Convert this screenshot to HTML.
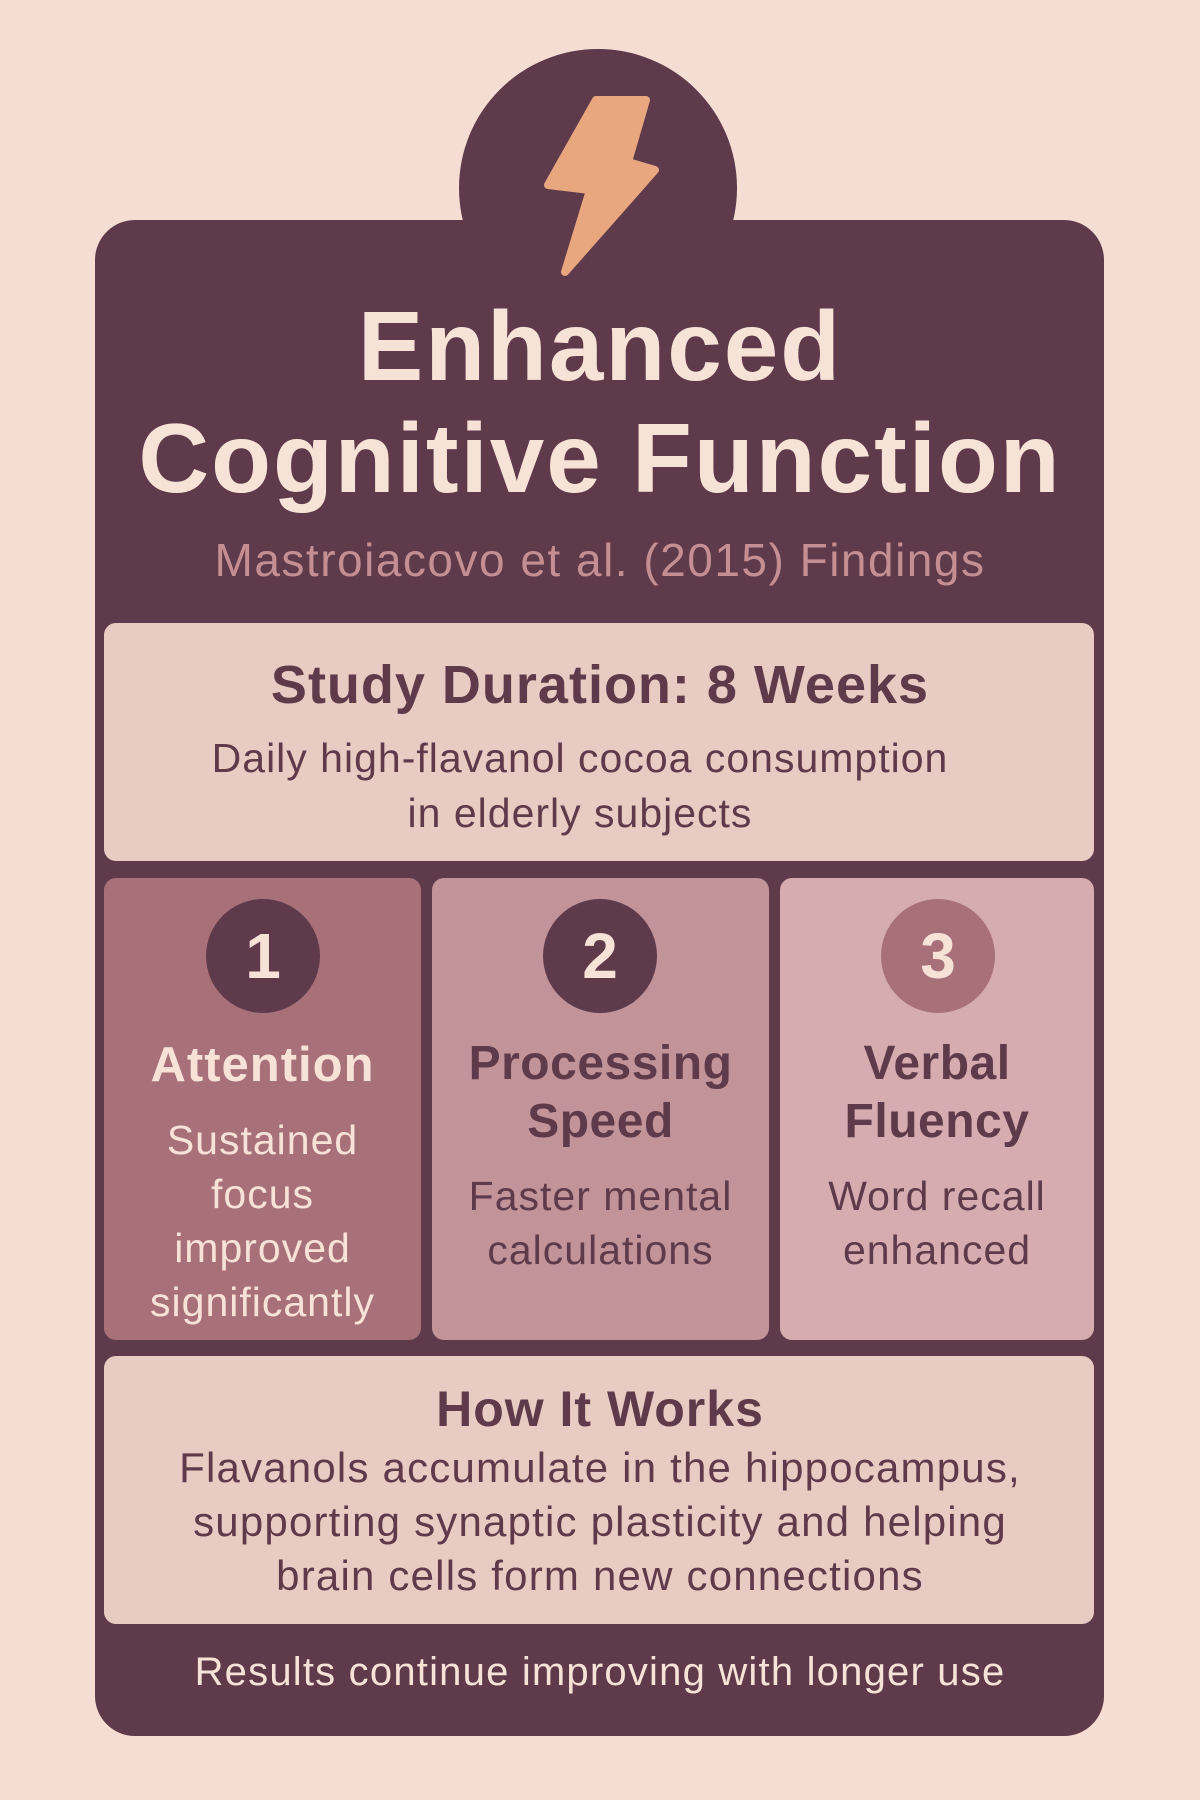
<!DOCTYPE html>
<html><head><style>
body{margin:0;width:1200px;height:1800px;background:#f5ddd3;position:relative;overflow:hidden;font-family:"Liberation Sans",sans-serif;}
.a{position:absolute;}
.t{position:absolute;left:0;width:100%;text-align:center;white-space:nowrap;}
</style></head><body>
<div class="a" style="left:95px;top:220px;width:1009px;height:1516px;background:#5e3a4b;border-radius:40px;"></div>
<div class="a" style="left:459px;top:49px;width:278px;height:278px;background:#5e3a4b;border-radius:50%;"></div>
<svg class="a" style="left:0;top:0" width="1200" height="400"><polygon points="596,100 646,100 628,162 655,170 565,272 590,190 548,185" fill="#e8a77f" stroke="#e8a77f" stroke-width="8" stroke-linejoin="round"/></svg>
<div class="t" style="top:290px;font-size:98px;font-weight:bold;color:#f7e2d8;line-height:112px;letter-spacing:2px;">Enhanced<br>Cognitive Function</div>
<div class="t" style="top:533px;font-size:46px;color:#c48e93;letter-spacing:1.5px;">Mastroiacovo et al. (2015) Findings</div>
<div class="a" style="left:104px;top:623px;width:990px;height:238px;background:#e8cbc2;border-radius:12px;"></div>
<div class="t" style="top:654px;font-size:54px;font-weight:bold;color:#5e3a4b;letter-spacing:1px;">Study Duration: 8 Weeks</div>
<div class="t" style="top:731px;font-size:41px;color:#5e3a4b;line-height:55px;letter-spacing:1px;left:-20px;">Daily high-flavanol cocoa consumption<br>in elderly subjects</div>
<div class="a" style="left:104px;top:878px;width:317px;height:462px;background:#a8717a;border-radius:12px;"></div>
<div class="a" style="left:432px;top:878px;width:337px;height:462px;background:#c2949a;border-radius:12px;"></div>
<div class="a" style="left:780px;top:878px;width:314px;height:462px;background:#d6acb0;border-radius:12px;"></div>
<div class="a" style="left:206px;top:899px;width:114px;height:114px;border-radius:50%;background:#5e3a4b;color:#f7e2d8;font-size:64px;font-weight:bold;text-align:center;line-height:114px;">1</div>
<div class="a" style="left:543px;top:899px;width:114px;height:114px;border-radius:50%;background:#5e3a4b;color:#f7e2d8;font-size:64px;font-weight:bold;text-align:center;line-height:114px;">2</div>
<div class="a" style="left:881px;top:899px;width:114px;height:114px;border-radius:50%;background:#a8717a;color:#f7e2d8;font-size:64px;font-weight:bold;text-align:center;line-height:114px;">3</div>
<div class="a" style="left:104px;width:317px;top:1035px;text-align:center;color:#f7e2d8;">
<div style="font-size:49px;font-weight:bold;line-height:60px;letter-spacing:1px;">Attention</div>
<div style="font-size:41px;line-height:54px;margin-top:18px;letter-spacing:1px;">Sustained<br>focus<br>improved<br>significantly</div></div>
<div class="a" style="left:432px;width:337px;top:1035px;text-align:center;color:#5e3a4b;">
<div style="font-size:48px;font-weight:bold;line-height:58px;letter-spacing:0.5px;">Processing<br>Speed</div>
<div style="font-size:41px;line-height:54px;margin-top:18px;letter-spacing:1px;">Faster mental<br>calculations</div></div>
<div class="a" style="left:780px;width:314px;top:1035px;text-align:center;color:#5e3a4b;">
<div style="font-size:48px;font-weight:bold;line-height:58px;letter-spacing:0.5px;">Verbal<br>Fluency</div>
<div style="font-size:41px;line-height:54px;margin-top:18px;letter-spacing:1px;">Word recall<br>enhanced</div></div>
<div class="a" style="left:104px;top:1356px;width:990px;height:268px;background:#e8cbc2;border-radius:12px;"></div>
<div class="t" style="top:1380px;font-size:50px;font-weight:bold;color:#5e3a4b;letter-spacing:1px;">How It Works</div>
<div class="t" style="top:1441px;font-size:42px;color:#5e3a4b;line-height:54px;letter-spacing:1.2px;">Flavanols accumulate in the hippocampus,<br>supporting synaptic plasticity and helping<br>brain cells form new connections</div>
<div class="t" style="top:1650px;font-size:40px;color:#f7e2d8;letter-spacing:1.2px;">Results continue improving with longer use</div>
</body></html>
